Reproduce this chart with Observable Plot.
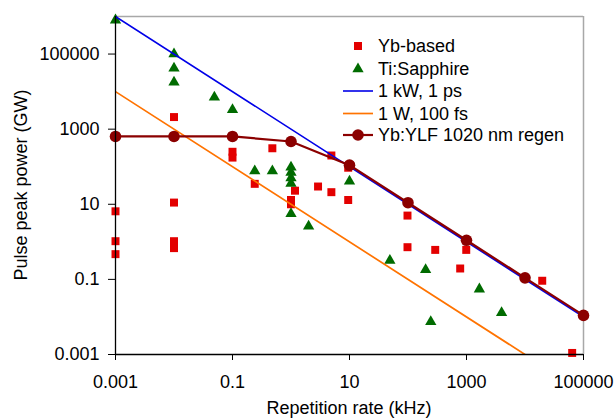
<!DOCTYPE html>
<html>
<head>
<meta charset="utf-8">
<script src="https://cdn.jsdelivr.net/npm/d3@7"></script>
<script src="https://cdn.jsdelivr.net/npm/@observablehq/plot@0.6"></script>
<style>
  html, body { margin: 0; padding: 0; background: white; }
  #chart { width: 614px; height: 420px; overflow: hidden; }
</style>
</head>
<body>
<div id="chart"></div>
<script>
// ---- Data (rate in kHz, peak power in GW) ----
const ybRate  = [0.001, 0.001, 0.001, 0.01, 0.01, 0.01, 0.01, 0.01, 0.1, 0.1, 0.24, 0.48, 1.0, 1.0, 1.17, 2.9, 4.9, 4.9, 9.5, 9.5, 98, 98, 292, 990, 780, 19700, 64000];
const ybPower = [6.5, 1.04, 0.47, 2100, 11.1, 1.04, 0.85, 0.68, 250, 175, 35, 310, 13, 10, 23, 29.7, 199, 21, 94, 13, 5.0, 0.72, 0.61, 0.61, 0.195, 0.092, 0.0011];

const tiRate  = [0.001, 0.01, 0.01, 0.01, 0.049, 0.1, 0.24, 0.48, 1.0, 1.0, 1.0, 1.0, 1.0, 2.0, 10, 49, 200, 245, 1660, 3980];
const tiPower = [8e5, 1e5, 42000, 17800, 7100, 3300, 77, 77, 97, 70, 50, 36, 5.6, 2.6, 41, 0.32, 0.18, 0.0074, 0.055, 0.013];

const kwRate  = [0.001, 100000];
const kwPower = [1e6, 0.01];

const wRate   = [0.001, 100000];
const wPower  = [1e4, 1e-4];

const regenRate  = [0.001, 0.01, 0.1, 1, 10, 100, 1000, 10000, 100000];
const regenPower = [640, 640, 640, 470, 110, 11, 1.1, 0.11, 0.011];

const xTicks = [0.001, 0.1, 10, 1000, 100000];
const yTicks = [0.001, 0.1, 10, 1000, 100000];

const seriesNames = ["Yb-based", "Ti:Sapphire", "1 kW, 1 ps", "1 W, 100 fs", "Yb:YLF 1020 nm regen"];
const xLabel = "Repetition rate (kHz)";
const yLabel = "Pulse peak power (GW)";

// ---- Build tables ----
const yb = ybRate.map((x, i) => ({x, y: ybPower[i]}));
const ti = tiRate.map((x, i) => ({x, y: tiPower[i]}));
const kw = kwRate.map((x, i) => ({x, y: kwPower[i]}));
const w1 = wRate.map((x, i) => ({x, y: wPower[i]}));
const regen = regenRate.map((x, i) => ({x, y: regenPower[i]}));

const RED = "#e30000", GREEN = "#006b00", BLUE = "#0000e8", ORANGE = "#ff7300", MAROON = "#8b0000";
const FONT = "'Liberation Sans', Arial, Helvetica, sans-serif";
const TRI_R = 4.2;

const chart = Plot.plot({
  width: 614,
  height: 420,
  marginLeft: 115,
  marginRight: 31,
  marginTop: 16,
  marginBottom: 66,
  style: {fontFamily: FONT, fontSize: "18px", color: "black", background: "white", overflow: "visible"},
  x: {type: "log", domain: [0.001, 100000]},
  y: {type: "log", domain: [0.001, 1e6]},
  marks: [
    Plot.ruleY([1e6], {stroke: "#a8a8a8", strokeWidth: 1.5}),
    Plot.ruleX([100000], {stroke: "#a8a8a8", strokeWidth: 1.5}),
    Plot.dot(yb, {x: "x", y: "y", symbol: "square", r: 4.5, fill: RED, stroke: null}),
    Plot.dot(ti, {x: "x", y: "y", symbol: "triangle", r: TRI_R, fill: GREEN, stroke: null}),
    Plot.line(kw, {x: "x", y: "y", stroke: BLUE, strokeWidth: 1.6, clip: true}),
    Plot.line(w1, {x: "x", y: "y", stroke: ORANGE, strokeWidth: 1.7, clip: true}),
    Plot.line(regen, {x: "x", y: "y", stroke: MAROON, strokeWidth: 2.2}),
    Plot.dot(regen, {x: "x", y: "y", r: 5.8, fill: MAROON, stroke: null}),
    Plot.axisX({ticks: xTicks, tickSize: 6, tickPadding: 15, tickFormat: d => String(d), label: null}),
    Plot.axisY({ticks: yTicks, tickSize: 7, tickPadding: 9, tickFormat: d => String(d), label: null}),
    Plot.ruleX([0.001], {stroke: "black", strokeWidth: 1.3}),
    Plot.ruleY([0.001], {stroke: "black", strokeWidth: 1.3})
  ]
});

document.getElementById("chart").appendChild(chart);

// ---- Axis titles and legend ----
const svg = d3.select(chart);
svg.append("text")
  .attr("x", 349).attr("y", 414)
  .attr("text-anchor", "middle")
  .attr("font-family", FONT).attr("font-size", 18).attr("fill", "black")
  .text(xLabel);
svg.append("text")
  .attr("transform", "translate(27,185) rotate(-90)")
  .attr("text-anchor", "middle")
  .attr("font-family", FONT).attr("font-size", 18).attr("fill", "black")
  .text(yLabel);

const lg = svg.append("g").attr("text-anchor", "start");
const rowY = [46, 69, 91, 113.5, 135];
const mx = 358, lx0 = 343, lx1 = 373, tx = 378;
lg.append("rect").attr("x", mx - 4).attr("y", rowY[0] - 4).attr("width", 8).attr("height", 8).attr("fill", RED);
lg.append("path").attr("d", d3.symbol(d3.symbolTriangle, Math.PI * TRI_R * TRI_R)()).attr("transform", `translate(${mx},${rowY[1]})`).attr("fill", GREEN);
lg.append("line").attr("x1", lx0).attr("x2", lx1).attr("y1", rowY[2]).attr("y2", rowY[2]).attr("stroke", BLUE).attr("stroke-width", 1.6);
lg.append("line").attr("x1", lx0).attr("x2", lx1).attr("y1", rowY[3]).attr("y2", rowY[3]).attr("stroke", ORANGE).attr("stroke-width", 1.7);
lg.append("line").attr("x1", lx0).attr("x2", lx1).attr("y1", rowY[4]).attr("y2", rowY[4]).attr("stroke", MAROON).attr("stroke-width", 2.2);
lg.append("circle").attr("cx", mx).attr("cy", rowY[4]).attr("r", 5.8).attr("fill", MAROON);
seriesNames.forEach((name, i) => {
  lg.append("text")
    .attr("x", tx).attr("y", rowY[i]).attr("dy", "0.36em")
    .attr("text-anchor", "start")
    .attr("font-family", FONT).attr("font-size", 18).attr("fill", "black")
    .text(name);
});
</script>
</body>
</html>
